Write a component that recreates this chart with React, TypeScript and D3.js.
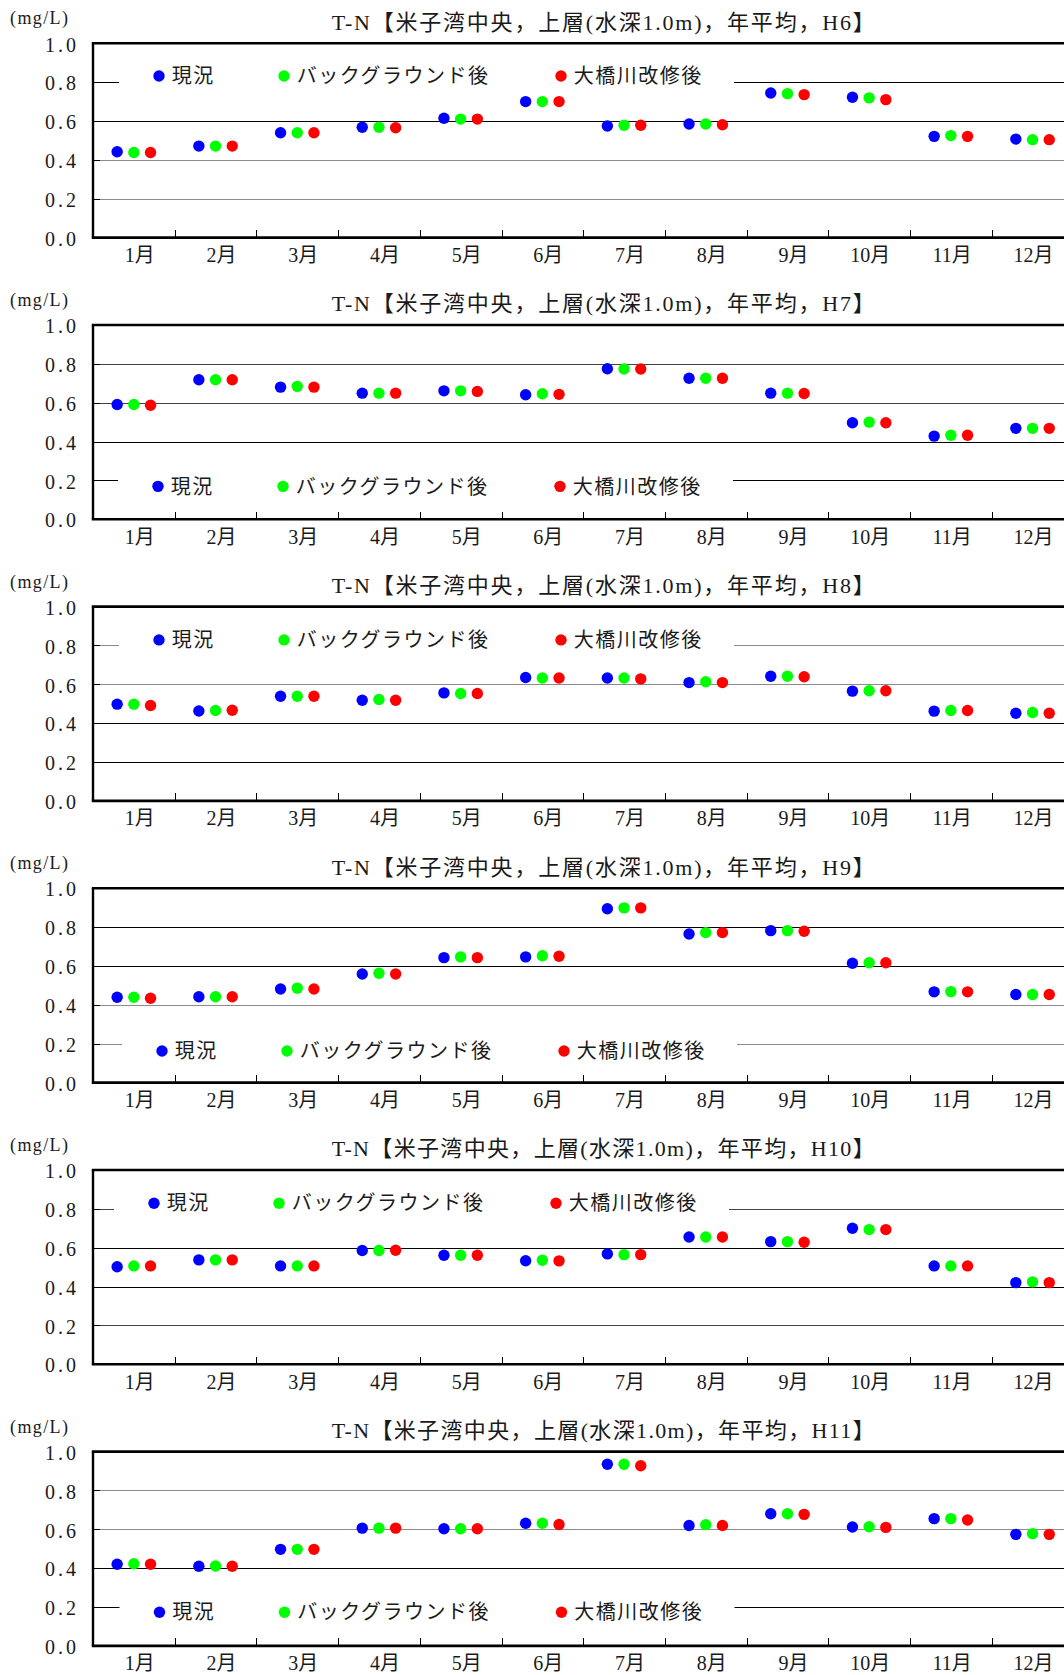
import React from 'react';
import * as d3 from 'd3';

// ---------- data ----------
const months = ['1月', '2月', '3月', '4月', '5月', '6月', '7月', '8月', '9月', '10月', '11月', '12月'];
const yearLabels = ['H6', 'H7', 'H8', 'H9', 'H10', 'H11'];
const seriesNames = ['現況', 'バックグラウンド後', '大橋川改修後'];
const seriesColors = ['#0000ff', '#00ff00', '#ff0000'];
const yTicks = [0, 0.2, 0.4, 0.6, 0.8, 1.0];
const unitLabel = '(mg/L)';

const h6Current = [0.442, 0.471, 0.540, 0.568, 0.614, 0.700, 0.574, 0.585, 0.744, 0.722, 0.521, 0.507];
const h6Background = [0.438, 0.471, 0.540, 0.568, 0.610, 0.700, 0.578, 0.585, 0.741, 0.719, 0.525, 0.504];
const h6Ohashi = [0.438, 0.471, 0.540, 0.565, 0.610, 0.700, 0.578, 0.581, 0.736, 0.710, 0.521, 0.504];

const h7Current = [0.591, 0.718, 0.680, 0.649, 0.661, 0.641, 0.775, 0.726, 0.649, 0.497, 0.428, 0.468];
const h7Background = [0.591, 0.718, 0.684, 0.649, 0.661, 0.646, 0.773, 0.726, 0.649, 0.500, 0.432, 0.468];
const h7Ohashi = [0.587, 0.718, 0.680, 0.649, 0.658, 0.643, 0.773, 0.726, 0.647, 0.497, 0.432, 0.468];

const h8Current = [0.498, 0.463, 0.539, 0.518, 0.556, 0.635, 0.633, 0.609, 0.642, 0.565, 0.462, 0.451];
const h8Background = [0.498, 0.465, 0.539, 0.522, 0.553, 0.633, 0.633, 0.613, 0.642, 0.567, 0.465, 0.455];
const h8Ohashi = [0.491, 0.467, 0.539, 0.518, 0.553, 0.633, 0.628, 0.609, 0.639, 0.567, 0.465, 0.451];

const h9Current = [0.439, 0.442, 0.482, 0.559, 0.643, 0.647, 0.895, 0.765, 0.782, 0.614, 0.467, 0.453];
const h9Background = [0.439, 0.442, 0.486, 0.563, 0.647, 0.653, 0.899, 0.772, 0.782, 0.617, 0.468, 0.453];
const h9Ohashi = [0.434, 0.442, 0.482, 0.559, 0.643, 0.650, 0.899, 0.772, 0.779, 0.617, 0.467, 0.453];

const h10Current = [0.502, 0.537, 0.506, 0.585, 0.561, 0.533, 0.568, 0.655, 0.631, 0.700, 0.506, 0.420];
const h10Background = [0.506, 0.537, 0.506, 0.585, 0.561, 0.535, 0.564, 0.655, 0.631, 0.693, 0.506, 0.424];
const h10Ohashi = [0.506, 0.537, 0.506, 0.587, 0.561, 0.532, 0.564, 0.655, 0.628, 0.693, 0.506, 0.420];

const h11Current = [0.420, 0.410, 0.497, 0.606, 0.603, 0.631, 0.935, 0.620, 0.680, 0.612, 0.655, 0.574];
const h11Background = [0.423, 0.411, 0.497, 0.606, 0.603, 0.631, 0.935, 0.624, 0.680, 0.613, 0.655, 0.578];
const h11Ohashi = [0.420, 0.410, 0.497, 0.606, 0.603, 0.625, 0.927, 0.620, 0.677, 0.610, 0.648, 0.574];

const chartSeries = [
  [h6Current, h6Background, h6Ohashi],
  [h7Current, h7Background, h7Ohashi],
  [h8Current, h8Background, h8Ohashi],
  [h9Current, h9Background, h9Ohashi],
  [h10Current, h10Background, h10Ohashi],
  [h11Current, h11Background, h11Ohashi],
];

// ---------- layout / style ----------
const W = 1064;
const H = 1675;
const plotLeft = 93;
const bandWidth = 81.7;
const firstTop = 43.3;
const chartStep = 281.66;
const plotH = 194.3;
const dotR = 5.7;
const dotSpread = 16.7;

// legend centre y offset from plot top, legend box left x
const legendLayout = [
  { dy: 32.7, left: 119 },
  { dy: 161.4, left: 118 },
  { dy: 33.3, left: 119 },
  { dy: 162.7, left: 122 },
  { dy: 33.3, left: 114 },
  { dy: 160.6, left: 119.5 },
];
const legendBlueOff = 40;
const legendItemOffsets = [40, 165, 442];
const legendBoxW = 615;

const BLK = '#000';
const GRY = '#8c8c8c';
const DGR = '#444';
// gridline colours for 0.2, 0.4, 0.6, 0.8
const gridColors = [
  [GRY, GRY, BLK, BLK],
  [BLK, BLK, DGR, DGR],
  [BLK, BLK, GRY, GRY],
  [GRY, GRY, BLK, BLK],
  [DGR, BLK, BLK, DGR],
  [BLK, BLK, GRY, GRY],
];

const serifFont = "'Liberation Serif', 'Noto Sans CJK JP', serif";
const jpFont = "'Noto Sans CJK JP', 'Noto Sans CJK SC', sans-serif";
const textColor = '#1a1a1a';

function Chart({ index }: { index: number }) {
  const top = firstTop + index * chartStep;
  const bottom = top + plotH;
  const x = d3
    .scaleBand<string>()
    .domain(months)
    .range([plotLeft, plotLeft + bandWidth * months.length])
    .padding(0);
  const sx = d3.scalePoint<string>().domain(seriesNames).range([-dotSpread, dotSpread]);
  const y = d3.scaleLinear().domain([0, 1]).range([bottom, top]);
  const series = chartSeries[index];
  const lg = legendLayout[index];
  const lgY = top + lg.dy;
  const crisp = (v: number) => Math.round(v) + 0.5;
  const inner = yTicks.filter((t) => t > 0 && t < 1);
  const title = `T-N【米子湾中央，上層(水深1.0m)，年平均，${yearLabels[index]}】`;

  return (
    <g>
      {/* gridlines */}
      {inner.map((t, i) => (
        <line
          key={`g${t}`}
          x1={plotLeft}
          x2={W}
          y1={crisp(y(t))}
          y2={crisp(y(t))}
          stroke={gridColors[index][i]}
          strokeWidth={1}
          shapeRendering="crispEdges"
        />
      ))}
      {/* inner y ticks */}
      {inner.map((t) => (
        <line
          key={`t${t}`}
          x1={plotLeft}
          x2={plotLeft + 7}
          y1={crisp(y(t))}
          y2={crisp(y(t))}
          stroke="#000"
          strokeWidth={1}
          shapeRendering="crispEdges"
        />
      ))}
      {/* legend */}
      <rect x={lg.left} y={lgY - 14} width={legendBoxW} height={28} fill="#fff" />
      {seriesNames.map((name, i) => (
        <g key={name}>
          <circle cx={lg.left + legendItemOffsets[i]} cy={lgY} r={dotR} fill={seriesColors[i]} />
          <text
            x={lg.left + legendItemOffsets[i] + 12.7}
            y={lgY + 7.2}
            fontFamily={jpFont}
            fontSize={20}
            letterSpacing={1.5}
            fill={textColor}
          >
            {name}
          </text>
        </g>
      ))}
      {/* dots */}
      {series.map((vals, si) =>
        vals.map((v, mi) => (
          <circle
            key={`d${si}-${mi}`}
            cx={(x(months[mi]) as number) + x.bandwidth() / 2 + (sx(seriesNames[si]) as number)}
            cy={y(v)}
            r={dotR}
            fill={seriesColors[si]}
          />
        ))
      )}
      {/* x ticks */}
      {months.slice(1).map((m) => (
        <line
          key={`xt${m}`}
          x1={crisp(x(m) as number)}
          x2={crisp(x(m) as number)}
          y1={bottom}
          y2={bottom - 7.5}
          stroke="#000"
          strokeWidth={1}
          shapeRendering="crispEdges"
        />
      ))}
      {/* frame */}
      <line x1={plotLeft - 1.2} x2={W} y1={top} y2={top} stroke="#000" strokeWidth={2.6} />
      <line x1={plotLeft - 1.2} x2={W} y1={bottom} y2={bottom} stroke="#000" strokeWidth={2.6} />
      <line x1={plotLeft} x2={plotLeft} y1={top} y2={bottom} stroke="#000" strokeWidth={2.4} />
      {/* y labels */}
      {yTicks.map((t) => (
        <text
          key={`yl${t}`}
          x={79}
          y={y(t) + 8.2}
          textAnchor="end"
          fontFamily={serifFont}
          fontSize={20}
          letterSpacing={3}
          fill={textColor}
        >
          {t.toFixed(1)}
        </text>
      ))}
      {/* x labels */}
      {months.map((m) => (
        <text
          key={`xl${m}`}
          x={(x(m) as number) + x.bandwidth() / 2 + 21}
          y={bottom + 24.5}
          textAnchor="end"
          fontFamily={serifFont}
          fontSize={20}
          fill={textColor}
        >
          {m}
        </text>
      ))}
      {/* unit */}
      <text
        x={10}
        y={top - 19}
        fontFamily={serifFont}
        fontSize={18}
        textLength={58}
        lengthAdjust="spacing"
        fill={textColor}
      >
        {unitLabel}
      </text>
      {/* title */}
      <text
        x={331.7}
        y={top - 13.5}
        fontFamily={serifFont}
        fontSize={22}
        textLength={543}
        lengthAdjust="spacing"
        fill={textColor}
      >
        {title}
      </text>
    </g>
  );
}

export default function App() {
  return (
    <svg
      width={W}
      height={H}
      viewBox={`0 0 ${W} ${H}`}
      style={{ position: 'absolute', left: 0, top: 0, display: 'block', background: '#fff' }}
    >
      <rect x={0} y={0} width={W} height={H} fill="#fff" />
      {yearLabels.map((yl, i) => (
        <Chart key={yl} index={i} />
      ))}
    </svg>
  );
}
